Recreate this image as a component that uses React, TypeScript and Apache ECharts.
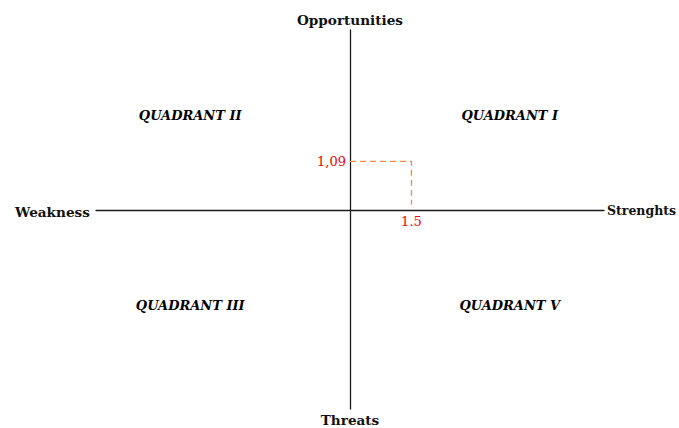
import React, { useEffect, useRef } from "react";
import * as echarts from "echarts";

const axisNames = { top: "Opportunities", bottom: "Threats", left: "Weakness", right: "Strenghts" };
const quadrantLabels = ["QUADRANT I", "QUADRANT II", "QUADRANT III", "QUADRANT V"];
const strengthScore = 1.5;
const opportunityScore = 1.09;
const strengthLabel = "1.5";
const opportunityLabel = "1,09";

const SERIF = "'DejaVu Serif', serif";

export default function App() {
  const ref = useRef<HTMLDivElement>(null);
  useEffect(() => {
    if (!ref.current) return;
    const chart = echarts.init(ref.current, undefined, { renderer: "svg" });
    const qx = 3.9;
    const qy = 2.1;
    const quadPos = [
      [qx, qy],
      [-qx, qy],
      [-qx, -qy],
      [qx, -qy],
    ];
    const axisStyle = { show: true, onZero: true, lineStyle: { color: "#1a1a1a", width: 1.3 } };
    const nameStyle = { fontFamily: SERIF, fontWeight: "bold", fontSize: 13.6, color: "#111" };
    chart.setOption({
      animation: false,
      backgroundColor: "#fff",
      grid: { left: 96, right: 75, top: 30, bottom: 19, containLabel: false, outerBoundsMode: "none" },
      xAxis: {
        type: "value",
        min: -6.2,
        max: 6.2,
        axisLine: axisStyle,
        axisTick: { show: false },
        axisLabel: { show: false },
        splitLine: { show: false },
        name: axisNames.right,
        nameLocation: "end",
        nameGap: 3,
        nameTextStyle: { ...nameStyle, fontSize: 12.5 },
      },
      yAxis: {
        type: "value",
        min: -4.4,
        max: 4.0,
        axisLine: axisStyle,
        axisTick: { show: false },
        axisLabel: { show: false },
        splitLine: { show: false },
        name: axisNames.top,
        nameLocation: "end",
        nameGap: 3,
        nameTextStyle: { ...nameStyle, verticalAlign: "bottom" },
      },
      graphic: [
        {
          type: "text",
          x: 15,
          y: 212,
          style: { text: axisNames.left, fontFamily: SERIF, fontWeight: "bold", fontSize: 13.6, fill: "#111", textVerticalAlign: "middle", verticalAlign: "middle" },
        },
        {
          type: "text",
          x: 350,
          y: 420,
          style: { text: axisNames.bottom, fontFamily: SERIF, fontWeight: "bold", fontSize: 13.6, fill: "#111", align: "center", textAlign: "center", verticalAlign: "middle", textVerticalAlign: "middle" },
        },
      ],
      series: [
        {
          type: "line",
          data: [
            [0, opportunityScore],
            [strengthScore, opportunityScore],
            [strengthScore, 0.13],
          ],
          symbol: "none",
          lineStyle: { color: "#f08a4b", width: 1.3, type: [6, 4] },
          silent: true,
        },
        {
          type: "scatter",
          symbolSize: 0,
          itemStyle: { opacity: 1 },
          data: [
            { value: [0, opportunityScore], label: { show: true, formatter: opportunityLabel, position: "left", distance: 4 } },
            { value: [strengthScore, 0], label: { show: true, formatter: strengthLabel, position: "bottom", distance: 5 } },
          ],
          label: { fontFamily: SERIF, fontSize: 13, color: "#ff0000", opacity: 1 },
          silent: true,
        },
        {
          type: "scatter",
          symbolSize: 0,
          itemStyle: { opacity: 1 },
          data: quadrantLabels.map((q, i) => ({
            value: quadPos[i],
            label: { show: true, formatter: q, position: "inside" },
          })),
          label: { fontFamily: SERIF, fontSize: 13, fontWeight: "bold", fontStyle: "italic", color: "#000", opacity: 1 },
          silent: true,
        },
      ],
    });
    return () => chart.dispose();
  }, []);
  return <div ref={ref} style={{ width: 679, height: 428, position: "absolute", left: 0, top: 0 }} />;
}
